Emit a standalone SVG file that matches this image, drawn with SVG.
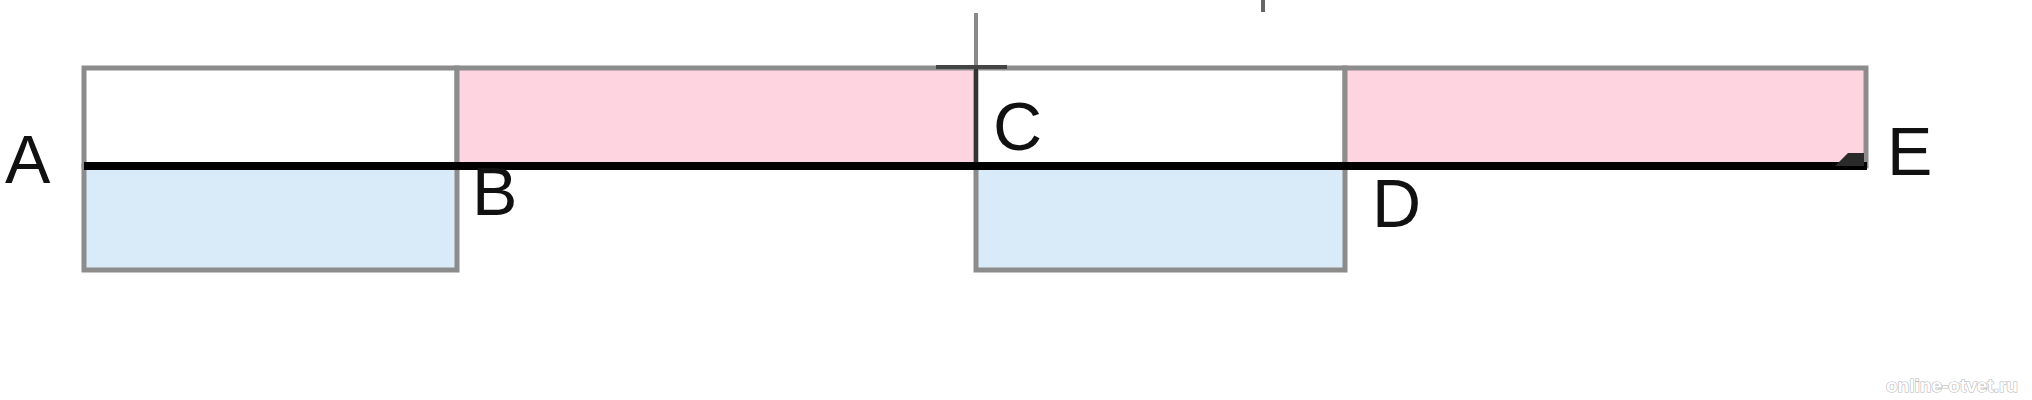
<svg xmlns="http://www.w3.org/2000/svg" width="2032" height="400" viewBox="0 0 2032 400">
<style>
.box{stroke:#8c8c8c;stroke-width:5}
.white{fill:#ffffff}
.blue{fill:#d9eaf8}
.pink{fill:#fdd4e0}
.lbl{font-family:"Liberation Sans",Arial,sans-serif;font-size:68px;fill:#111}
.wm{font-family:"Liberation Sans",Arial,sans-serif;font-size:19px;font-weight:bold;fill:#ffffff;stroke:#b8b8b8;stroke-width:1.2;paint-order:stroke}
</style>
<rect width="2032" height="400" fill="#ffffff"/>
<g id="segment-AB">
<rect class="box white" x="84" y="68" width="373" height="98"/>
<rect class="box blue" x="84" y="166" width="373" height="104"/>
</g>
<g id="segment-BC">
<rect class="box pink" x="457" y="68" width="519" height="98"/>
</g>
<g id="segment-CD">
<rect class="box white" x="976" y="68" width="369" height="98"/>
<rect class="box blue" x="976" y="166" width="369" height="104"/>
</g>
<g id="segment-DE">
<rect class="box pink" x="1345" y="68" width="521" height="98"/>
</g>
<g id="connectors">
<line x1="976" y1="13" x2="976" y2="68" stroke="#8a8a8a" stroke-width="4"/>
<line x1="976" y1="68" x2="976" y2="166" stroke="#333" stroke-width="4"/>
<line x1="936" y1="67" x2="1007" y2="67" stroke="#444" stroke-width="4"/>
<line x1="1263" y1="0" x2="1263" y2="12" stroke="#666" stroke-width="4"/>
<line x1="84" y1="166" x2="1867" y2="166" stroke="#000" stroke-width="8"/>
<polygon points="1835,166 1864,166 1864,153 1848,153" fill="#2a2a2a"/>
</g>
<g id="labels">
<text class="lbl" x="5" y="183">A</text>
<text class="lbl" x="472" y="215">B</text>
<text class="lbl" x="993" y="150">C</text>
<text class="lbl" x="1372" y="227">D</text>
<text class="lbl" x="1887" y="175">E</text>
</g>
<text class="wm" x="1886" y="392">online-otvet.ru</text>
</svg>
